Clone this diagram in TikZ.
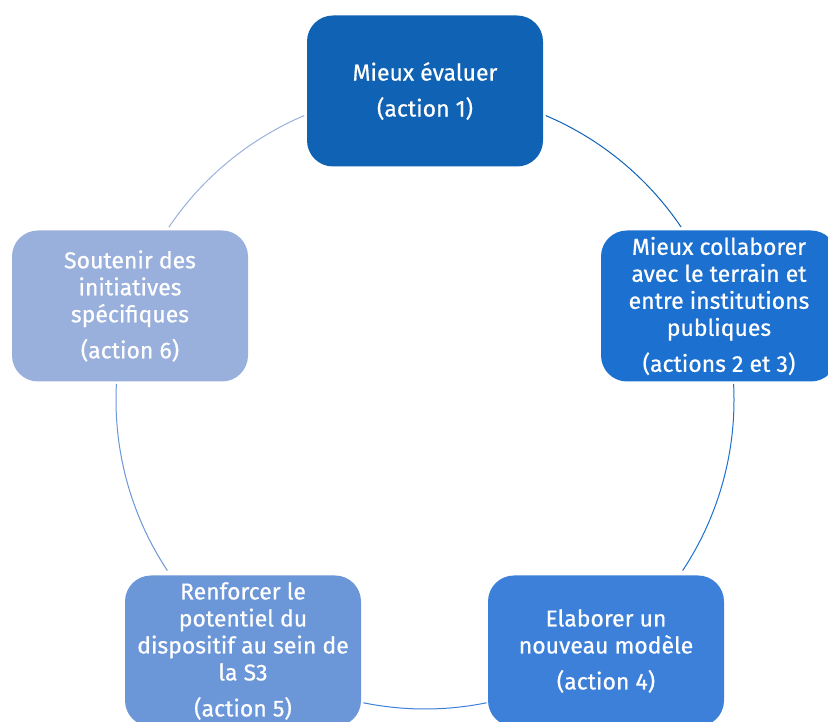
\documentclass[tikz,border=0pt]{standalone}
\usepackage{fontspec}
\setmainfont{Fira Sans}[FakeBold=0.6]
\definecolor{cA}{HTML}{0F62B4}
\definecolor{cB}{HTML}{1B70D0}
\definecolor{cC}{HTML}{3C80D9}
\definecolor{cD}{HTML}{6B96D8}
\definecolor{cE}{HTML}{99AFDC}
\begin{document}
\begin{tikzpicture}[x=1pt,y=1pt,
  box/.style={rectangle, rounded corners=26pt, minimum width=236pt, minimum height=151pt,
    text=white, align=center, font=\fontsize{23}{27}\selectfont, inner sep=0pt},
  link/.style={line width=1pt}]
\useasboundingbox (0,0) rectangle (828,722);
\clip (0,0) rectangle (828,722);
\coordinate (c) at (425,322);
% arcs
\draw[link, draw=cA] ([shift={(67:309pt)}]c) arc[start angle=67, end angle=34, radius=309pt];
\draw[link, draw=cB] ([shift={(3:309pt)}]c) arc[start angle=3, end angle=-33.5, radius=309pt];
\draw[link, draw=cC] ([shift={(-78.5:309pt)}]c) arc[start angle=-78.5, end angle=-101.5, radius=309pt];
\draw[link, draw=cD] ([shift={(213.5:309pt)}]c) arc[start angle=213.5, end angle=177, radius=309pt];
\draw[link, draw=cE] ([shift={(146:309pt)}]c) arc[start angle=146, end angle=113, radius=309pt];
% boxes
\node[box, fill=cA] (n1) at (425,631) {Mieux évaluer\\[9pt](action 1)};
\node[box, fill=cB] (n2) at (719,416) {Mieux collaborer\\avec le terrain et\\entre institutions\\publiques\\[9pt](actions 2 et 3)};
\node[box, fill=cC] (n3) at (606,71) {Elaborer un\\nouveau modèle\\[9pt](action 4)};
\node[box, fill=cD] (n4) at (243,71) {Renforcer le\\potentiel du\\dispositif au sein de\\la S3\\[9pt](action 5)};
\node[box, fill=cE] (n5) at (130,416) {Soutenir des\\initiatives\\spécifiques\\[9pt](action 6)};
\end{tikzpicture}
\end{document}
